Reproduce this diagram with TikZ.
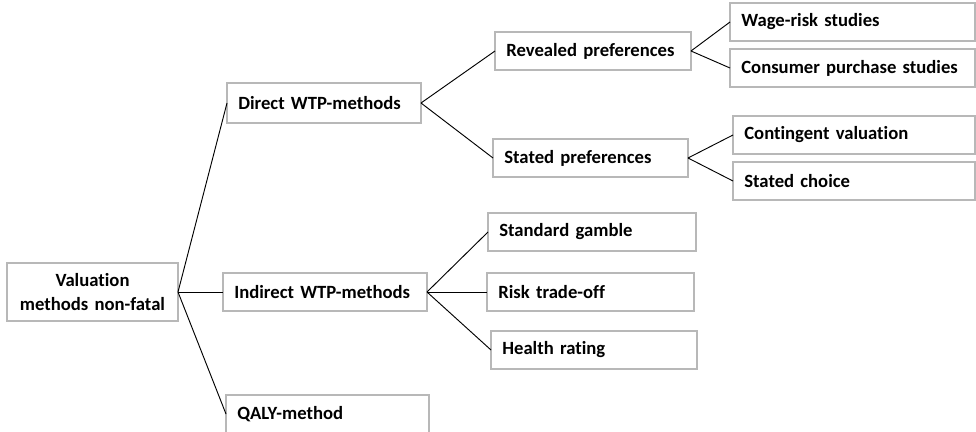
\documentclass[tikz,border=0pt]{standalone}
\usepackage{fontspec}
\setmainfont{Carlito}[Ligatures=NoCommon, WordSpace=0.7]
\usetikzlibrary{positioning}

\begin{document}
\begin{tikzpicture}[x=0.75pt,y=-0.75pt,
  box/.style={draw=black!28, line width=0.9pt, anchor=north west, outer sep=0pt,
    inner xsep=8.5pt, text width=#1, align=left, minimum height=28.5pt,
    font=\fontsize{14}{17.5}\selectfont\bfseries},
  link/.style={line width=0.7pt}]
\useasboundingbox (0,0) rectangle (976,432);

\node[box=111.25pt, align=center, minimum height=43.5pt] (root) at (7,263) {Valuation\\methods non-fatal};

\node[box=128.5pt, minimum height=30pt] (direct) at (227,83) {Direct WTP-methods};
\node[box=136pt] (indirect) at (223,273) {Indirect WTP-methods};
\node[box=135.25pt] (qaly) at (226,395) {QALY-method};

\node[box=130pt] (revealed) at (495,32) {Revealed preferences};
\node[box=129.25pt] (stated) at (493,139) {Stated preferences};

\node[box=166.75pt] (wage) at (730,3) {Wage-risk studies};
\node[box=166.75pt] (consumer) at (730,49) {Consumer purchase studies};
\node[box=164.5pt] (contingent) at (733,116) {Contingent valuation};
\node[box=164.5pt] (choice) at (733,162) {Stated choice};

\node[box=139pt] (gamble) at (488,213) {Standard gamble};
\node[box=138.25pt] (tradeoff) at (487,273) {Risk trade-off};
\node[box=137.5pt] (rating) at (491,331) {Health rating};

\draw[link] (root.east) -- (direct.west);
\draw[link] (root.east) -- (indirect.west);
\draw[link] (root.east) -- (qaly.west);
\draw[link] (direct.east) -- (revealed.west);
\draw[link] (direct.east) -- (stated.west);
\draw[link] (revealed.east) -- (wage.west);
\draw[link] (revealed.east) -- (consumer.west);
\draw[link] (stated.east) -- (contingent.west);
\draw[link] (stated.east) -- (choice.west);
\draw[link] (indirect.east) -- (gamble.west);
\draw[link] (indirect.east) -- (tradeoff.west);
\draw[link] (indirect.east) -- (rating.west);
\end{tikzpicture}
\end{document}
